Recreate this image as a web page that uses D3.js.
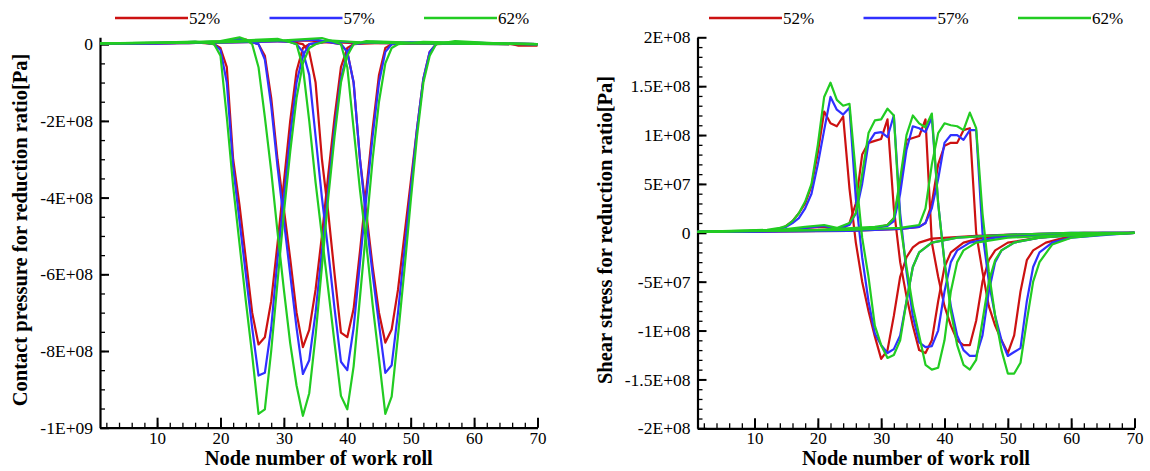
<!DOCTYPE html>
<html>
<head>
<meta charset="utf-8">
<script src="https://cdn.jsdelivr.net/npm/d3@7"></script>
<style>
body { margin: 0; background: #fff; }
svg text { font-family: "Liberation Serif", "Times New Roman", serif; fill: #000; }
.axis path, .axis line { stroke: #000; }
</style>
</head>
<body>
<div id="chart"></div>
<script>
// series names and colours
var series = ["52%", "57%", "62%"],
    colors = ["#cc1111", "#3030ff", "#22cc22"];

// contact pressure, [node, value in 1E+08 Pa], four roll positions per series
var pressure52 = [
  [[1,0.02],[10,0.03],[16,0.05],[18,0.02],[19,0],[20,-0.1],[21,-0.6],[22,-3.0],[23,-4.2],[24,-5.6],[25,-7.0],[26,-7.83],[27,-7.64],[28,-6.7],[29,-5.2],[30,-3.6],[31,-2.0],[32,-0.7],[33,-0.1],[34,0],[37,0.06],[41,0.03],[50,0.02],[70,0]],
  [[1,0.02],[12,0.03],[20,0.06],[22,0.1],[24,0.12],[25,0.05],[26,0],[27,-0.3],[28,-1.4],[29,-3.0],[30,-4.3],[31,-5.6],[32,-7.0],[33,-7.9],[34,-7.45],[35,-6.4],[36,-5.0],[37,-3.4],[38,-1.9],[39,-0.6],[40,-0.1],[41,0],[45,0.04],[55,0.02],[70,0]],
  [[1,0.02],[15,0.03],[24,0.08],[28,0.1],[31,0.06],[33,0],[34,-0.2],[35,-1.0],[36,-3.0],[37,-4.4],[38,-6.0],[39,-7.52],[40,-7.64],[41,-6.9],[42,-5.4],[43,-3.8],[44,-2.2],[45,-0.8],[46,-0.1],[47,0],[52,0.03],[70,0]],
  [[1,0.02],[20,0.04],[30,0.08],[34,0.1],[37,0.05],[39,0],[40,-0.2],[41,-1.0],[42,-3.0],[43,-4.4],[44,-5.8],[45,-7.0],[46,-7.78],[47,-7.44],[48,-6.4],[49,-5.0],[50,-3.6],[51,-2.2],[52,-0.9],[53,-0.2],[54,0],[58,0.03],[66,0],[67,-0.04],[70,-0.04]]
];
var pressure57 = [
  [[1,0.02],[10,0.03],[16,0.06],[18,0.03],[19,0],[20,-0.15],[21,-1.0],[22,-3.2],[23,-4.6],[24,-6.0],[25,-7.4],[26,-8.64],[27,-8.57],[28,-7.4],[29,-5.6],[30,-4.0],[31,-2.4],[32,-1.0],[33,-0.3],[34,0],[37,0.08],[42,0.04],[50,0.02],[70,0]],
  [[1,0.02],[12,0.03],[20,0.07],[23,0.14],[24,0.1],[26,0],[27,-0.4],[28,-1.6],[29,-3.2],[30,-4.6],[31,-6.0],[32,-7.4],[33,-8.6],[34,-8.24],[35,-7.0],[36,-5.4],[37,-3.8],[38,-2.2],[39,-0.9],[40,-0.2],[41,0],[44,0.06],[55,0.02],[70,0]],
  [[1,0.02],[15,0.03],[24,0.08],[28,0.1],[31,0.06],[32,0],[33,-0.2],[34,-0.8],[35,-2.4],[36,-4.0],[37,-5.4],[38,-6.9],[39,-8.28],[40,-8.5],[41,-7.4],[42,-5.7],[43,-4.0],[44,-2.4],[45,-1.0],[46,-0.2],[47,0],[50,0.05],[70,0]],
  [[1,0.02],[20,0.04],[30,0.08],[35,0.12],[37,0.06],[39,0],[40,-0.2],[41,-1.0],[42,-3.0],[43,-4.6],[44,-6.0],[45,-7.3],[46,-8.57],[47,-8.37],[48,-7.0],[49,-5.4],[50,-3.8],[51,-2.2],[52,-0.9],[53,-0.2],[54,0],[57,0.06],[63,0.02],[70,0]]
];
var pressure62 = [
  [[1,0.02],[10,0.04],[16,0.07],[18,0.03],[19,0],[20,-0.3],[21,-1.9],[22,-3.7],[23,-5.2],[24,-6.7],[25,-8.1],[26,-9.64],[27,-9.52],[28,-8.0],[29,-6.2],[30,-4.4],[31,-2.8],[32,-1.4],[33,-0.5],[34,-0.1],[35,0],[37,0.1],[42,0.05],[50,0.02],[70,0]],
  [[1,0.02],[12,0.04],[20,0.08],[23,0.18],[24,0.12],[25,0],[26,-0.6],[27,-1.9],[28,-3.3],[29,-4.9],[30,-6.4],[31,-7.8],[32,-8.9],[33,-9.69],[34,-9.1],[35,-7.6],[36,-5.8],[37,-4.0],[38,-2.4],[39,-1.0],[40,-0.3],[41,0],[43,0.08],[50,0.04],[70,0]],
  [[1,0.02],[15,0.04],[24,0.1],[29,0.14],[31,0.05],[32,0],[33,-0.6],[34,-2.0],[35,-3.6],[36,-5.0],[37,-6.4],[38,-7.8],[39,-9.17],[40,-9.52],[41,-8.4],[42,-6.6],[43,-4.8],[44,-3.0],[45,-1.5],[46,-0.5],[47,-0.1],[48,0],[52,0.06],[70,0]],
  [[1,0.02],[20,0.05],[30,0.1],[36,0.16],[38,0.06],[39,0],[40,-0.6],[41,-2.2],[42,-3.8],[43,-5.2],[44,-6.8],[45,-8.2],[46,-9.64],[47,-9.19],[48,-7.6],[49,-5.9],[50,-4.1],[51,-2.4],[52,-1.0],[53,-0.3],[54,0],[57,0.08],[63,0.03],[70,0]]
];

// shear stress, [node, value in 1E+08 Pa]
var shear52 = [
  [[1,0.01],[12,0.02],[14,0.04],[15,0.07],[16,0.12],[17,0.2],[18,0.3],[19,0.48],[20,0.82],[21,1.24],[22,1.12],[23,1.09],[24,1.19],[25,0.45],[26,-0.1],[27,-0.5],[28,-0.8],[29,-1.06],[30,-1.29],[31,-1.2],[32,-0.85],[33,-0.45],[34,-0.25],[35,-0.15],[36,-0.1],[38,-0.06],[45,-0.03],[55,-0.01],[70,0]],
  [[1,0.01],[14,0.02],[18,0.05],[21,0.06],[23,0.03],[24,0.04],[25,0.1],[26,0.3],[27,0.8],[28,0.92],[29,0.94],[30,0.96],[31,1.16],[32,0.25],[33,-0.3],[34,-0.65],[35,-0.95],[36,-1.2],[37,-1.23],[38,-1.1],[39,-0.7],[40,-0.35],[41,-0.2],[43,-0.1],[46,-0.05],[55,-0.02],[62,0],[70,0]],
  [[1,0.01],[20,0.02],[26,0.04],[29,0.05],[31,0.08],[32,0.15],[33,0.5],[34,0.95],[35,0.97],[36,0.99],[37,1.16],[38,-0.1],[39,-0.45],[40,-0.75],[41,-0.95],[42,-1.1],[43,-1.15],[44,-1.15],[45,-0.9],[46,-0.5],[47,-0.28],[48,-0.18],[50,-0.1],[55,-0.05],[62,-0.01],[70,0]],
  [[1,0.01],[25,0.02],[33,0.04],[36,0.06],[37,0.1],[38,0.3],[39,0.7],[40,0.89],[41,0.92],[42,0.92],[43,1.05],[44,1.07],[45,0.0],[46,-0.4],[47,-0.75],[48,-0.95],[49,-1.1],[50,-1.23],[51,-1.05],[52,-0.6],[53,-0.28],[54,-0.18],[56,-0.1],[59,-0.05],[66,-0.01],[70,0]]
];
var shear57 = [
  [[1,0.01],[12,0.02],[14,0.04],[15,0.06],[16,0.1],[17,0.15],[18,0.25],[19,0.4],[20,0.7],[21,1.05],[22,1.39],[23,1.26],[24,1.21],[25,1.28],[26,0.35],[27,-0.25],[28,-0.7],[29,-1.03],[30,-1.15],[31,-1.23],[32,-1.19],[33,-1.05],[34,-0.7],[35,-0.35],[36,-0.2],[38,-0.1],[42,-0.05],[50,-0.02],[60,0],[70,0]],
  [[1,0.01],[14,0.02],[18,0.05],[21,0.07],[23,0.04],[25,0.08],[26,0.2],[27,0.5],[28,0.92],[29,1.02],[30,1.03],[31,0.98],[32,1.2],[33,0.2],[34,-0.4],[35,-0.85],[36,-1.12],[37,-1.17],[38,-1.16],[39,-1.0],[40,-0.6],[41,-0.3],[42,-0.18],[44,-0.1],[48,-0.05],[58,-0.02],[65,0],[70,0]],
  [[1,0.01],[20,0.02],[26,0.04],[29,0.05],[31,0.07],[32,0.12],[33,0.4],[34,0.85],[35,1.09],[36,1.07],[37,1.03],[38,1.18],[39,0.3],[40,-0.3],[41,-0.75],[42,-1.05],[43,-1.2],[44,-1.26],[45,-1.26],[46,-1.05],[47,-0.6],[48,-0.3],[49,-0.18],[51,-0.1],[55,-0.05],[62,-0.02],[70,0]],
  [[1,0.01],[25,0.02],[33,0.04],[36,0.06],[37,0.1],[38,0.25],[39,0.55],[40,0.92],[41,1.0],[42,1.0],[43,0.95],[44,1.05],[45,1.05],[46,0.0],[47,-0.5],[48,-0.85],[49,-1.1],[50,-1.26],[51,-1.22],[52,-1.18],[53,-0.7],[54,-0.35],[55,-0.2],[57,-0.1],[60,-0.05],[66,-0.02],[70,0]]
];
var shear62 = [
  [[1,0.01],[12,0.03],[14,0.05],[15,0.07],[16,0.12],[17,0.2],[18,0.32],[19,0.5],[20,0.9],[21,1.39],[22,1.535],[23,1.36],[24,1.3],[25,1.32],[26,0.6],[27,-0.05],[28,-0.45],[29,-0.95],[30,-1.15],[31,-1.28],[32,-1.25],[33,-1.1],[34,-0.7],[35,-0.35],[36,-0.2],[38,-0.1],[42,-0.05],[50,-0.02],[60,0],[70,0]],
  [[1,0.01],[14,0.03],[18,0.06],[21,0.08],[23,0.05],[25,0.1],[26,0.2],[27,0.6],[28,1.02],[29,1.15],[30,1.16],[31,1.27],[32,1.2],[33,0.1],[34,-0.35],[35,-0.75],[36,-1.05],[37,-1.35],[38,-1.4],[39,-1.38],[40,-1.1],[41,-0.6],[42,-0.3],[43,-0.18],[45,-0.1],[50,-0.05],[60,-0.02],[70,0]],
  [[1,0.01],[20,0.03],[26,0.05],[29,0.06],[31,0.08],[32,0.15],[33,0.55],[34,1.0],[35,1.2],[36,1.12],[37,1.08],[38,1.22],[39,0.3],[40,-0.3],[41,-0.8],[42,-1.15],[43,-1.35],[44,-1.4],[45,-1.3],[46,-0.9],[47,-0.5],[48,-0.28],[49,-0.18],[51,-0.1],[55,-0.05],[62,-0.02],[70,0]],
  [[1,0.01],[25,0.03],[33,0.05],[36,0.08],[37,0.25],[38,0.7],[39,1.02],[40,1.12],[41,1.1],[42,1.09],[43,1.05],[44,1.23],[45,1.07],[46,0.2],[47,-0.4],[48,-0.85],[49,-1.2],[50,-1.44],[51,-1.44],[52,-1.33],[53,-0.9],[54,-0.5],[55,-0.3],[57,-0.12],[60,-0.05],[65,-0.02],[70,0]]
];

// tick values (1E+08 Pa) and their labels
var nodeTicks = [10, 20, 30, 40, 50, 60, 70];
var pressureTicks = [0, -2, -4, -6, -8, -10],
    pressureLabels = ["0", "-2E+08", "-4E+08", "-6E+08", "-8E+08", "-1E+09"];
var shearTicks = [2, 1.5, 1, 0.5, 0, -0.5, -1, -1.5, -2],
    shearLabels = ["2E+08", "1.5E+08", "1E+08", "5E+07", "0", "-5E+07", "-1E+08", "-1.5E+08", "-2E+08"];

var serif = "Liberation Serif, Times New Roman, serif";

var svg = d3.select("#chart").append("svg")
    .attr("width", 1150)
    .attr("height", 471)
    .attr("font-family", serif);

function panel(p) {
  var x = d3.scaleLinear().domain([1, 70]).range([p.left, p.right]);
  var y = d3.scaleLinear().domain(p.ydomain).range([p.bottom, p.top]);
  var g = svg.append("g");

  // minor ticks first, majors on top
  g.append("g").attr("class", "axis")
      .attr("transform", "translate(0," + p.bottom + ")")
      .call(d3.axisBottom(x).tickValues(d3.range(2, 70, 2)).tickSize(-5).tickSizeOuter(0).tickFormat(""))
      .call(function(a) { a.select(".domain").remove(); a.selectAll("line").attr("stroke-width", 1.3); });
  g.append("g").attr("class", "axis")
      .attr("transform", "translate(" + p.left + ",0)")
      .call(d3.axisLeft(y).tickValues(p.minor).tickSize(-5).tickSizeOuter(0).tickFormat(""))
      .call(function(a) { a.select(".domain").remove(); a.selectAll("line").attr("stroke-width", 1.3); });

  g.append("g").attr("class", "axis")
      .attr("transform", "translate(0," + p.bottom + ")")
      .call(d3.axisBottom(x).tickValues(nodeTicks).tickSize(-10).tickSizeOuter(0).tickPadding(4))
      .attr("font-family", serif)
      .attr("font-size", 17)
      .call(function(a) {
        a.select(".domain").attr("stroke-width", 2.2);
        a.selectAll("line").attr("stroke-width", 2);
      });
  g.append("g").attr("class", "axis")
      .attr("transform", "translate(" + p.left + ",0)")
      .call(d3.axisLeft(y).tickValues(p.ticks).tickSize(-9).tickSizeOuter(0).tickPadding(7)
        .tickFormat(function(d, i) { return p.labels[i]; }))
      .attr("font-family", serif)
      .attr("font-size", 17.5)
      .call(function(a) {
        a.select(".domain").attr("stroke-width", 2.2);
        a.selectAll("line").attr("stroke-width", 2);
      });

  var line = d3.line()
      .x(function(d) { return x(d[0]); })
      .y(function(d) { return y(d[1]); });

  p.data.forEach(function(curves, s) {
    g.selectAll("path.s" + s)
        .data(curves)
      .enter().append("path")
        .attr("class", "s" + s)
        .attr("d", line)
        .attr("fill", "none")
        .attr("stroke", colors[s])
        .attr("stroke-width", 2.2)
        .attr("stroke-linejoin", "round");
  });

  // legend
  series.forEach(function(name, i) {
    var lx = p.legendX + i * 154.5;
    g.append("line")
        .attr("x1", lx).attr("x2", lx + 73)
        .attr("y1", 18).attr("y2", 18)
        .attr("stroke", colors[i])
        .attr("stroke-width", 2.6);
    g.append("text")
        .attr("x", lx + 74).attr("y", 24)
        .attr("font-size", 17)
        .text(name);
  });

  g.append("text")
      .attr("x", (p.left + p.right) / 2)
      .attr("y", 465)
      .attr("text-anchor", "middle")
      .attr("font-size", 20.5)
      .attr("font-weight", "bold")
      .text("Node number of work roll");

  g.append("text")
      .attr("transform", "translate(" + p.titleX + ",230)rotate(-90)")
      .attr("text-anchor", "middle")
      .attr("font-size", 20.5)
      .attr("font-weight", "bold")
      .text(p.title);
}

panel({
  left: 100, right: 537.5, top: 37.3, bottom: 427.7,
  ydomain: [-10, 0.18],
  ticks: pressureTicks, labels: pressureLabels,
  minor: d3.range(-9.5, 0, 0.5),
  data: [pressure52, pressure57, pressure62],
  legendX: 115, titleX: 27,
  title: "Contact pressure for reduction ratio[Pa]"
});

panel({
  left: 697.5, right: 1134.5, top: 37.3, bottom: 428.3,
  ydomain: [-2, 2],
  ticks: shearTicks, labels: shearLabels,
  minor: d3.range(-1.9, 2, 0.1),
  data: [shear52, shear57, shear62],
  legendX: 709, titleX: 612,
  title: "Shear stress for reduction ratio[Pa]"
});
</script>
</body>
</html>
